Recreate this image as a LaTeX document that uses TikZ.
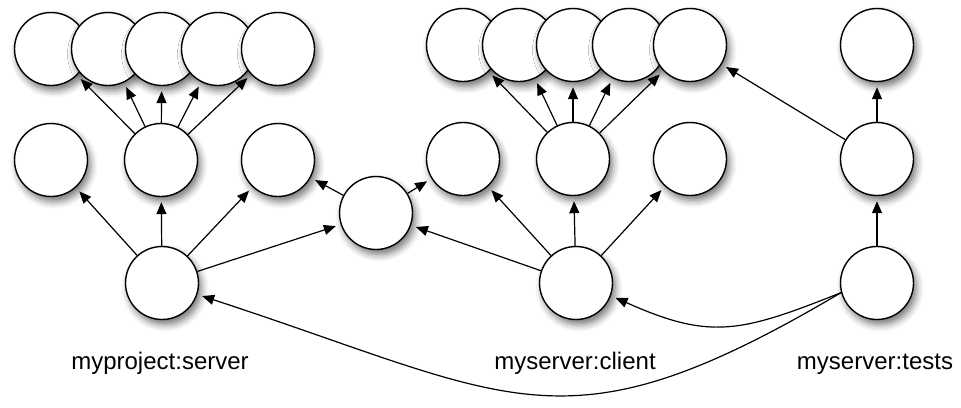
\documentclass[tikz,border=0pt]{standalone}
\usepackage{fontspec}
\setmainfont{Liberation Sans}
\usetikzlibrary{arrows.meta,shadows.blur,backgrounds}
\begin{document}
\begin{tikzpicture}[x=1pt,y=-1pt,
  dot/.style={circle,draw=black,line width=1.4pt,fill=white,minimum size=73pt,inner sep=0pt,
    blur shadow={shadow xshift=3pt,shadow yshift=-5pt,shadow blur radius=7pt,shadow opacity=55}},
  arr/.style={line width=1.2pt,-{Triangle[length=12pt,width=10pt]},shorten >=5pt},
  lbl/.style={anchor=base,font=\fontsize{24}{28}\selectfont,inner sep=0pt}]
\path[use as bounding box] (0,0) rectangle (961,407);
% left group
\node[dot] (lt1) at (51,49) {};
\node[dot] (lt2) at (108,49) {};
\node[dot] (lt3) at (162,49) {};
\node[dot] (lt4) at (218,49) {};
\node[dot] (lt5) at (278,49) {};
\node[dot] (lm1) at (51,160) {};
\node[dot] (lm2) at (161,160) {};
\node[dot] (lm3) at (278,160) {};
\node[dot] (server) at (162,283) {};
\node[dot] (center) at (376,213) {};
% middle group
\node[dot] (ct1) at (463,45) {};
\node[dot] (ct2) at (519,45) {};
\node[dot] (ct3) at (573,45) {};
\node[dot] (ct4) at (629,45) {};
\node[dot] (ct5) at (690,45) {};
\node[dot] (cm1) at (463,159) {};
\node[dot] (cm2) at (573,159) {};
\node[dot] (cm3) at (690,159) {};
\node[dot] (client) at (576,283) {};
% right group
\node[dot] (tt) at (877,45) {};
\node[dot] (tm) at (877,159) {};
\node[dot] (tests) at (877,283) {};
% labels
\node[lbl] (lserver) at (160,369) {myproject:server};
\node[lbl] (lclient) at (575,369) {myserver:client};
\node[lbl] (ltests) at (875,369) {myserver:tests};
\begin{scope}[on background layer]
\foreach \t in {lm1,lm2,lm3,center} \draw[arr] (server) -- (\t);
\foreach \t in {lt1,lt2,lt3,lt4,lt5} \draw[arr] (lm2) -- (\t);
\draw[arr] (center) -- (lm3);
\draw[arr] (center) -- (cm1);
\foreach \t in {center,cm1,cm2,cm3} \draw[arr] (client) -- (\t);
\foreach \t in {ct1,ct2,ct3,ct4,ct5} \draw[arr] (cm2) -- (\t);
\draw[arr] (tm) -- (ct5);
\draw[arr] (tests) -- (tm);
\draw[arr] (tm) -- (tt);
\draw[arr] (tests.195) .. controls (740,333) and (710,340) .. (client.-20);
\draw[arr] (tests.195) .. controls (563,457) and (517,399) .. (server.-18);
\end{scope}
\end{tikzpicture}
\end{document}
